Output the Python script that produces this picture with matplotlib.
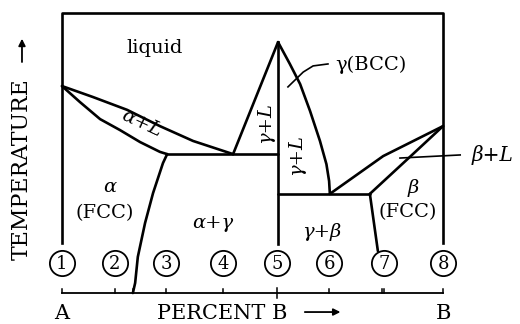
import matplotlib
matplotlib.use("Agg")
import matplotlib.pyplot as plt
import numpy as np

# ---- data (x: percent B, T: relative temperature 0..100) ----
liquidus_a_x = [0, 8.1, 17.1, 25.7, 34.4, 44.9]
liquidus_a_T = [73.9, 70.0, 65.4, 59.6, 54.3, 49.6]
solidus_a_x = [0, 4.7, 10.0, 15.2, 20.5, 25.7, 27.6]
solidus_a_T = [73.9, 68.2, 62.1, 58.2, 53.9, 50.4, 49.6]
solvus_a_x = [27.6, 26.5, 23.9, 21.8, 19.9, 19.2, 18.6]
solvus_a_T = [49.6, 46.4, 35.7, 25.0, 12.9, 3.6, 0.0]
peritectic_x = [27.6, 56.7]
peritectic_T = [49.6, 49.6]
gamma_liq_x = [44.9, 56.7]
gamma_liq_T = [49.6, 89.6]
gamma_right_x = [56.7, 59.8, 62.5, 65.1, 67.7, 69.4, 70.1, 70.3]
gamma_right_T = [89.6, 81.8, 74.6, 65.0, 54.3, 46.0, 40.0, 35.4]
eutectoid_x = [56.7, 80.8]
eutectoid_T = [35.4, 35.4]
liquidus_b_x = [70.3, 84.3, 100]
liquidus_b_T = [35.4, 48.9, 59.6]
solidus_b_x = [80.8, 91.3, 100]
solidus_b_T = [35.4, 48.6, 59.6]
solvus_b_x = [80.8, 82.9]
solvus_b_T = [35.4, 15.0]
compound_x = 56.7
compound_T = [89.6, 17.5]
frame_top = 100
frame_bottom = 17.9

circle_x = [0, 13.9, 27.3, 42.3, 56.4, 70.1, 84.5, 100]
circle_labels = ["1", "2", "3", "4", "5", "6", "7", "8"]
circle_T = 10.7
tick_x = [13.9, 18.6, 27.3, 42.3, 70.1, 83.9, 84.6]

fig = plt.figure(figsize=(5.2, 3.24), dpi=100)
ax = fig.add_axes([0, 0, 1, 1])
ax.set_xlim(-16.27, 120.2)
ax.set_ylim(-11.07, 104.64)
ax.axis("off")

lw = 1.9
k = "black"
serif = "DejaVu Serif"

# frame
ax.plot([0, 0, 100, 100], [frame_bottom, frame_top, frame_top, frame_bottom], color=k, lw=lw)
# phase boundaries
for xs, ts in [(liquidus_a_x, liquidus_a_T), (solidus_a_x, solidus_a_T),
               (solvus_a_x, solvus_a_T), (peritectic_x, peritectic_T),
               (gamma_liq_x, gamma_liq_T), (gamma_right_x, gamma_right_T),
               (eutectoid_x, eutectoid_T), (liquidus_b_x, liquidus_b_T),
               (solidus_b_x, solidus_b_T), (solvus_b_x, solvus_b_T)]:
    ax.plot(xs, ts, color=k, lw=lw, solid_joinstyle="round", solid_capstyle="round")
ax.plot([compound_x, compound_x], compound_T, color=k, lw=lw)

# composition axis
ax.plot([0, 100], [0, 0], color=k, lw=1.3)
for tx in tick_x + [0, 100]:
    ax.plot([tx, tx], [0, 1.4], color=k, lw=1.1)
ax.plot([56.4, 56.4], [-1.8, 1.8], color=k, lw=1.1)

# circled alloy numbers
ax.scatter(circle_x, [circle_T] * len(circle_x), s=330, facecolors="white",
           edgecolors=k, linewidths=1.3, zorder=3)
for cx, lab in zip(circle_x, circle_labels):
    ax.text(cx, circle_T - 0.2, lab, ha="center", va="center", fontsize=13,
            family=serif, zorder=4)

fs = 14
ax.text(24.4, 87.5, "liquid", ha="center", va="center", fontsize=fs, family=serif)
ax.text(21, 60.5, "α+L", ha="center", va="center", fontsize=fs, family=serif,
        style="italic", rotation=-25)
ax.text(12.6, 38, "α", ha="center", va="center", fontsize=fs, family=serif, style="italic")
ax.text(11.3, 28.6, "(FCC)", ha="center", va="center", fontsize=fs, family=serif)
ax.text(39.6, 25, "α+γ", ha="center", va="center", fontsize=fs, family=serif, style="italic")
ax.text(53.3, 61, "γ+L", ha="center", va="center", fontsize=fs, family=serif,
        style="italic", rotation=90)
ax.text(61.4, 49.3, "γ+L", ha="center", va="center", fontsize=fs, family=serif,
        style="italic", rotation=90)
ax.text(71.6, 81.4, "γ(BCC)", ha="left", va="center", fontsize=fs, family=serif)
ax.plot([59.3, 63.3, 65.9, 69.8], [73.6, 78.9, 81.1, 81.8], color=k, lw=1.2)
ax.text(107.6, 49.3, "β+L", ha="left", va="center", fontsize=14.5, family=serif, style="italic")
ax.plot([88.7, 104.5], [48.2, 49.3], color=k, lw=1.2)
ax.text(68.2, 21.8, "γ+β", ha="center", va="center", fontsize=fs, family=serif, style="italic")
ax.text(92.1, 37.5, "β", ha="center", va="center", fontsize=fs, family=serif, style="italic")
ax.text(90.8, 28.9, "(FCC)", ha="center", va="center", fontsize=fs, family=serif)

# axis titles
ax.text(-10.5, 44.3, "TEMPERATURE", ha="center", va="center", fontsize=15.8,
        family=serif, rotation=90)
ax.annotate("", xy=(-10.5, 91.8), xytext=(-10.5, 81.5),
            arrowprops=dict(arrowstyle="-|>", color=k, lw=1.3, mutation_scale=10))
ax.text(0, -7.2, "A", ha="center", va="center", fontsize=15, family=serif)
ax.text(42, -7.2, "PERCENT B", ha="center", va="center", fontsize=15, family=serif)
ax.annotate("", xy=(73.8, -6.8), xytext=(63, -6.8),
            arrowprops=dict(arrowstyle="-|>", color=k, lw=1.3, mutation_scale=10))
ax.text(100, -7.2, "B", ha="center", va="center", fontsize=15, family=serif)

fig.savefig("out.png", dpi=100)
